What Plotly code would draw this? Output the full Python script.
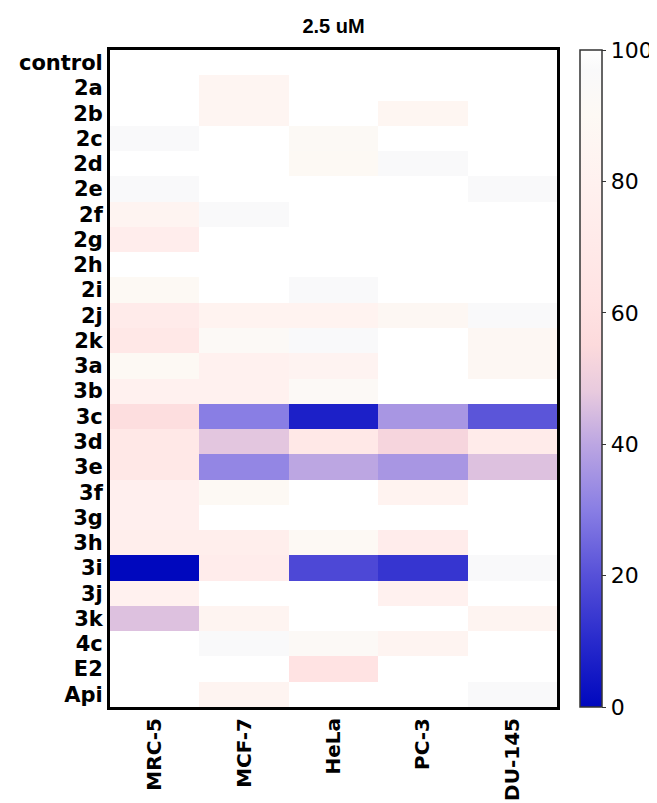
import plotly.graph_objects as go

cell_lines = ["MRC-5", "MCF-7", "HeLa", "PC-3", "DU-145"]
compounds = ["control", "2a", "2b", "2c", "2d", "2e", "2f", "2g", "2h", "2i", "2j", "2k",
             "3a", "3b", "3c", "3d", "3e", "3f", "3g", "3h", "3i", "3j", "3k", "4c", "E2", "Api"]

# viability (%) per compound, columns: MRC-5, MCF-7, HeLa, PC-3, DU-145
mrc5  = [100, 100, 100, 97, 100, 97, 84, 75, 100, 90, 72, 68, 90, 80, 58, 68, 68, 78, 78, 76, 0, 80, 46, 100, 100, 100]
mcf7  = [100, 85, 85, 100, 100, 100, 97, 100, 100, 100, 82, 92, 80, 80, 30, 47, 32, 90, 100, 76, 74, 100, 84, 97, 100, 84]
hela  = [100, 100, 100, 91, 90, 100, 100, 100, 100, 97, 82, 97, 83, 92, 7, 68, 40, 100, 100, 90, 18, 100, 100, 92, 62, 100]
pc3   = [100, 100, 86, 100, 97, 100, 100, 100, 100, 100, 88, 100, 100, 100, 36, 53, 36, 82, 100, 74, 13, 80, 100, 84, 100, 100]
du145 = [100, 100, 100, 100, 100, 97, 100, 100, 100, 100, 97, 88, 88, 100, 21, 72, 46, 100, 100, 100, 97, 100, 84, 100, 100, 97]

z = [[mrc5[i], mcf7[i], hela[i], pc3[i], du145[i]] for i in range(len(compounds))]

colorscale = [
    [0.0, "rgb(0,8,190)"],
    [0.1, "rgb(40,42,204)"],
    [0.2, "rgb(86,80,216)"],
    [0.3, "rgb(137,126,228)"],
    [0.4, "rgb(188,166,226)"],
    [0.48, "rgb(232,202,222)"],
    [0.55, "rgb(252,218,220)"],
    [0.62, "rgb(255,227,227)"],
    [0.8, "rgb(255,241,239)"],
    [0.9, "rgb(253,249,244)"],
    [0.97, "rgb(249,249,250)"],
    [1.0, "rgb(255,255,255)"],
]

OFF = 8  # page body margin
W, H = 657 - OFF, 803 - OFF
L, R, T, B = 110 - OFF, 557 - OFF, 50 - OFF, 707 - OFF

fig = go.Figure(go.Heatmap(
    z=z, x=cell_lines, y=compounds,
    zmin=0, zmax=100, colorscale=colorscale,
    colorbar=dict(
        x=(580 - OFF - L) / (R - L), xanchor="left", xpad=0, ypad=0,
        y=0.5, yanchor="middle",
        len=1.0, lenmode="fraction", thickness=22,
        outlinewidth=1.5, outlinecolor="#333",
        tickvals=[0, 20, 40, 60, 80, 100],
        ticks="outside", ticklen=4, tickcolor="#333",
        tickfont=dict(family="DejaVu Sans", size=22, color="black"),
    ),
))

fig.update_layout(
    width=W, height=H,
    margin=dict(l=L, r=W - R, t=T, b=H - B, autoexpand=False),
    paper_bgcolor="white", plot_bgcolor="white",
    title=dict(text="<b>2.5 uM</b>", x=(L + (R - L) / 2) / W, xanchor="center",
               y=1 - (26 - OFF) / H, yanchor="middle",
               font=dict(family="Liberation Sans, Arial", size=20, color="black")),
)
fig.update_xaxes(
    showline=True, mirror=True, linewidth=3, linecolor="black",
    tickangle=-90, ticks="", showgrid=False, automargin=False,
    tickfont=dict(family="DejaVu Sans", size=20, color="black"),
    tickprefix="<b>", ticksuffix="</b>",
)
fig.update_yaxes(
    showline=True, mirror=True, linewidth=3, linecolor="black",
    autorange="reversed", ticks="", showgrid=False, automargin=False,
    tickfont=dict(family="DejaVu Sans", size=21, color="black"),
    tickprefix="<b>", ticksuffix="</b>",
)

fig.write_html("out.html")
